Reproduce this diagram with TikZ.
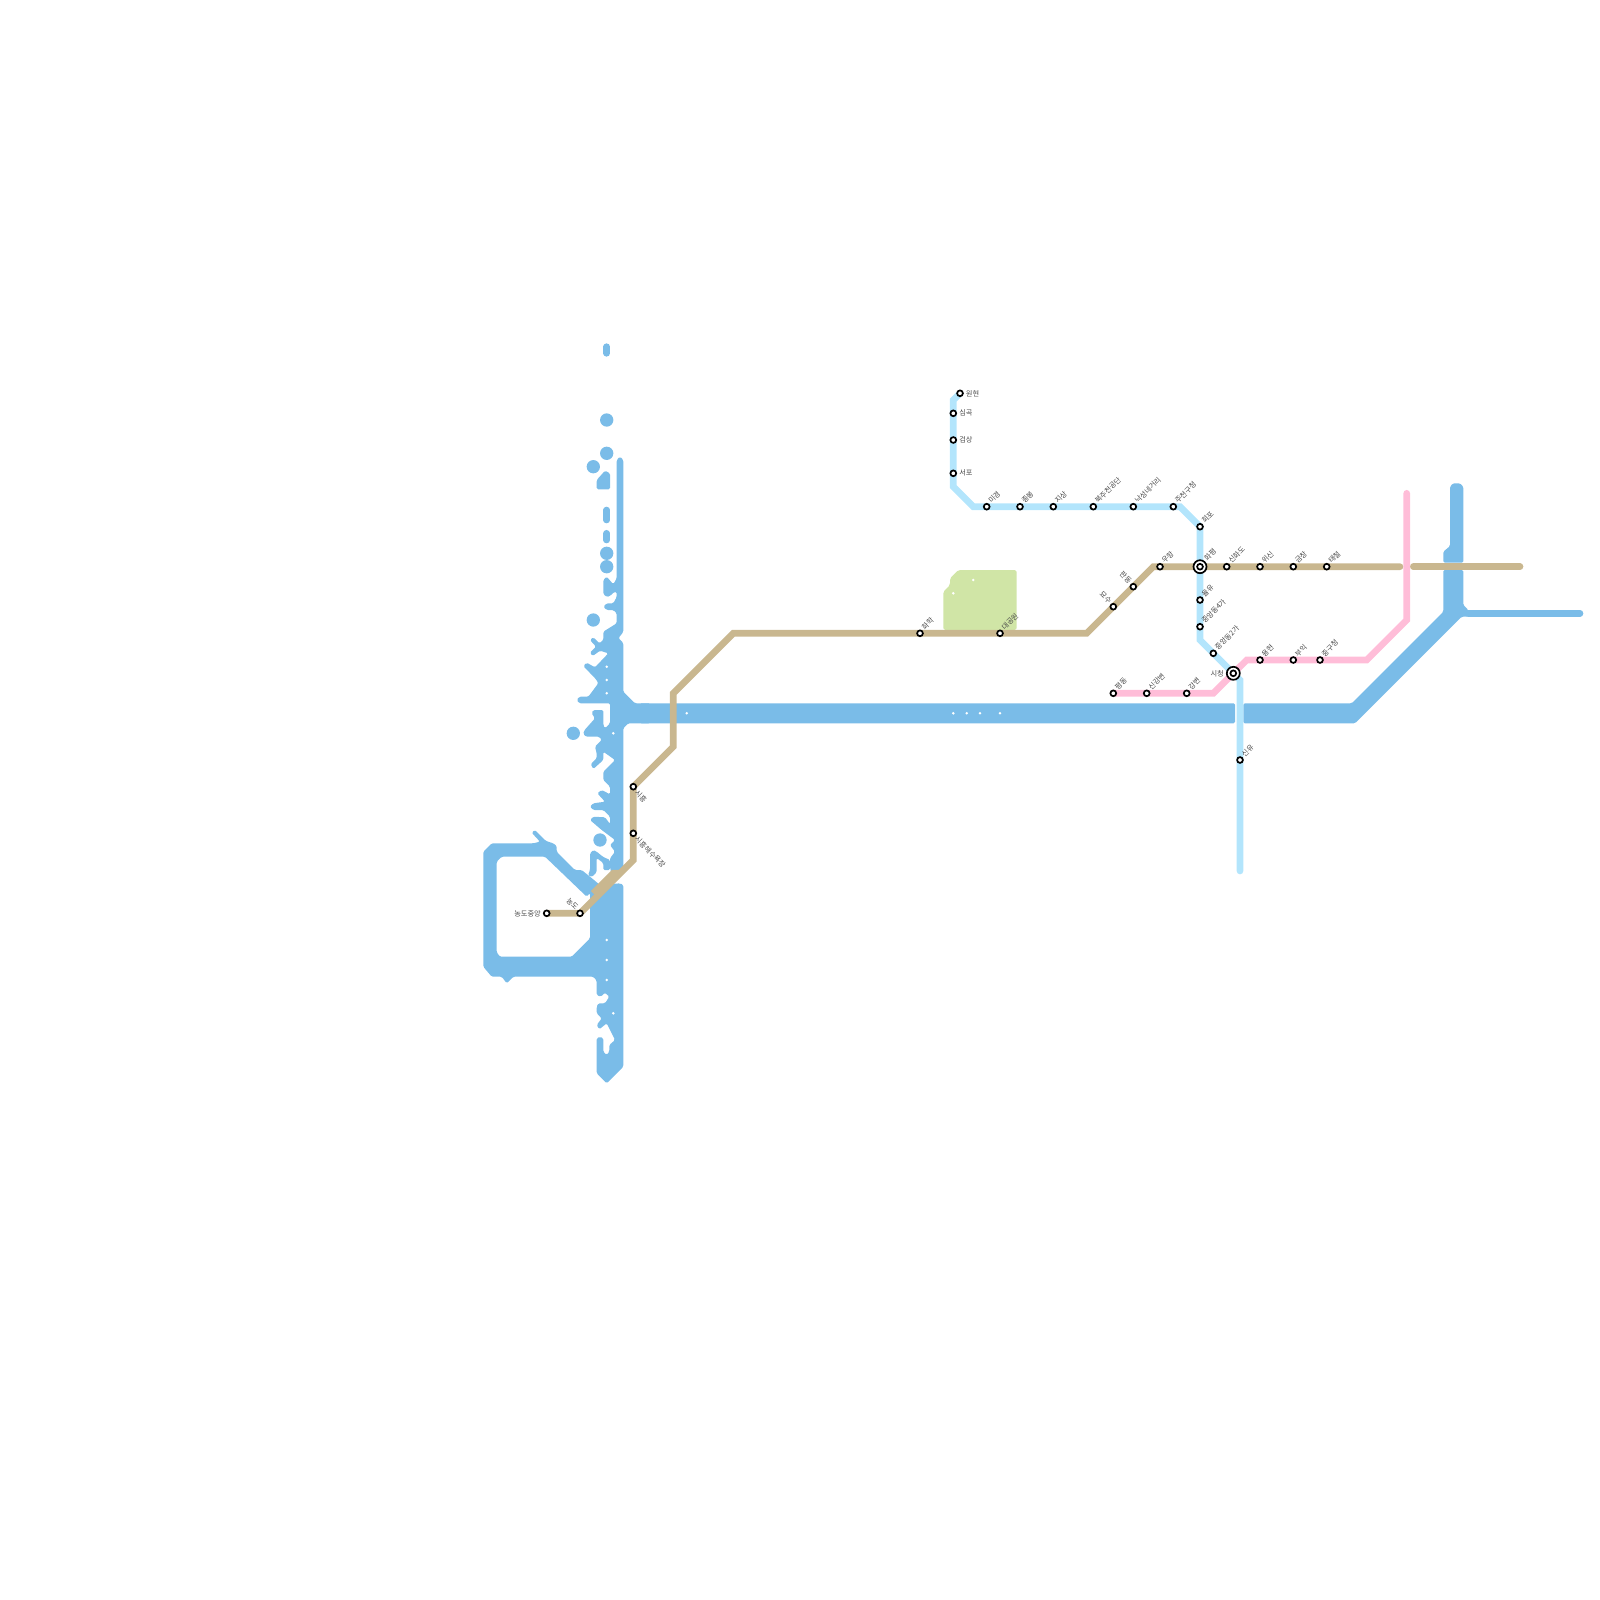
\documentclass[tikz,border=0pt]{standalone}
\usepackage{xcolor}
\usepackage{fontspec}
\setmainfont{Noto Sans CJK KR}
\usetikzlibrary{positioning,backgrounds}
\definecolor{watercol}{HTML}{7ABCE8}
\definecolor{parkcol}{HTML}{D0E5A6}
\definecolor{tancol}{HTML}{C9B78F}
\definecolor{skycol}{HTML}{B3E5FC}
\definecolor{pinkcol}{HTML}{FFBDD8}
\definecolor{txtcol}{HTML}{4A4A4A}
\tikzset{
    stn/.style={circle,draw=black,fill=white,line width=.85pt,inner sep=0pt,minimum size=2.9pt},
    ringstn/.style={circle,draw=black,fill=white,line width=.85pt,inner sep=0pt,minimum size=6.5pt},
    txt/.style={font=\fontsize{3.6}{4}\selectfont,text=txtcol,inner sep=0pt},
    lblne/.style={label={[txt,rotate=45,anchor=west]45:#1}},
    lblse/.style={label={[txt,rotate=-45,anchor=west]-45:#1}},
    lblnw/.style={label={[txt,rotate=-45,anchor=east]135:#1}},
    lblr/.style={label={[txt,anchor=west]0:#1}},
    lbll/.style={label={[txt,anchor=east]180:#1}},
    water/.style={fill=watercol,rounded corners=.7pt},
    waterline/.style={draw=watercol,line width=3.33pt,line cap=round},
    tanline/.style={draw=tancol,line width=3.33pt,line cap=round},
    skyline/.style={draw=skycol,line width=3.33pt,line cap=round},
    pinkline/.style={draw=pinkcol,line width=3.33pt,line cap=round}
}
\begin{document}
\begin{tikzpicture}[x=0.5pt,y=-0.5pt,label distance=.9pt]
    \useasboundingbox (0,0) rectangle (1600,1600);

    \node[stn,lblr=원현] (wonhyeon) at (960,393.3) {};
    \node[stn,lblr=심곡] (simgok) at (953.3,413.3) {};
    \node[stn,lblr=검상] (geomsang) at (953.3,440) {};
    \node[stn,lblr=서포] (seopo) at (953.3,473.3) {};
    \node[stn,lblne=미경] (migyeong) at (986.7,506.7) {};
    \node[stn,lblne=종봉] (jongbong) at (1020,506.7) {};
    \node[stn,lblne=지상] (jisang) at (1053.3,506.7) {};
    \node[stn,lblne=북주천공단] (bukjucheon) at (1093.3,506.7) {};
    \node[stn,lblne=낙성네거리] (nakseong) at (1133.3,506.7) {};
    \node[stn,lblne=주천구청] (jucheon) at (1173.3,506.7) {};
    \node[stn,lblne=회포] (hoepo) at (1200,526.7) {};
    \node[ringstn,lblne=화평] (hwapyeongring) at (1200,566.7) {};
    \node[stn] (hwapyeong) at (1200,566.7) {};
    \node[stn,lblne=율유] (yulyu) at (1200,600) {};
    \node[stn,lblne=중앙동4가] (jungang4) at (1200,626.7) {};
    \node[stn,lblne=중앙동2가] (jungang2) at (1213.3,653.3) {};
    \node[ringstn,lbll=시청] (sicheongring) at (1233.3,673.3) {};
    \node[stn] (sicheong) at (1233.3,673.3) {};
    \node[stn,lblne=신유] (sinyu) at (1240,760) {};

    \node[stn,lblne=신화도] (sinhwado) at (1226.7,566.7) {};
    \node[stn,lblne=위신] (wisin) at (1260,566.7) {};
    \node[stn,lblne=금창] (geumchang) at (1293.3,566.7) {};
    \node[stn,lblne=태철] (taecheol) at (1326.7,566.7) {};
    \node[stn,lblne=우항] (uhang) at (1160,566.7) {};
    \node[stn,lblnw=판동] (pandong) at (1133.3,586.7) {};
    \node[stn,lblnw=묘수] (myosu) at (1113.3,606.7) {};
    \node[stn,lblne=대공원] (daegongwon) at (1000,633.3) {};
    \node[stn,lblne=화학] (hwahak) at (920,633.3) {};
    \node[stn,lblse=시흥] (siheung) at (633.3,786.7) {};
    \node[stn,lblse=시흥해수욕장] (siheungbeach) at (633.3,833.3) {};
    \node[stn,lblnw=농도] (nongdo) at (580,913.3) {};
    \node[stn,lbll=농도중앙] (nongdocenter) at (546.7,913.3) {};

    \node[stn,lblne=평동] (pyeongdong) at (1113.3,693.3) {};
    \node[stn,lblne=신강변] (singangbyeon) at (1146.7,693.3) {};
    \node[stn,lblne=강변] (gangbyeon) at (1186.7,693.3) {};
    \node[stn,lblne=용현] (yonghyeon) at (1260,660) {};
    \node[stn,lblne=부익] (buik) at (1293.3,660) {};
    \node[stn,lblne=중구청] (junggu) at (1320,660) {};

    \coordinate (skyA) at (953.3,400);
    \coordinate (skyB) at (953.3,486.7);
    \coordinate (skyC) at (973.3,506.7);
    \coordinate (skyG) at (1180,506.7);
    \coordinate (skyD) at (1200,640);
    \coordinate (skyE) at (1240,680);
    \coordinate (skyF) at (1240,871);
    \coordinate (tanA) at (633.3,860);
    \coordinate (tanB) at (673.3,746.7);
    \coordinate (tanC) at (673.3,693.3);
    \coordinate (tanD) at (733.3,633.3);
    \coordinate (tanE) at (1086.7,633.3);
    \coordinate (tanF) at (1153.3,566.7);
    \coordinate (tanG) at (1400,566.7);
    \coordinate (tanH) at (1413.3,566.7);
    \coordinate (tanI) at (1520,566.7);
    \coordinate (tanJ) at (593.3,893.3);
    \coordinate (tanK) at (613.3,873.3);
    \coordinate (tanL) at (620,873.3);
    \coordinate (pinkA) at (1213.3,693.3);
    \coordinate (pinkB) at (1246.7,660);
    \coordinate (pinkC) at (1366.7,660);
    \coordinate (pinkD) at (1406.7,620);
    \coordinate (pinkE) at (1406.7,493.3);
    \coordinate (seaA) at (1468,613.3);
    \coordinate (seaB) at (1580,613.3);

    \begin{scope}[on background layer]
    \fill[water] (620,456.7) -- (623.3,460) -- (623.3,632) -- (618.5,638) -- (623.3,643) -- (623.3,691.7) -- (635,703.3) -- (650,703.3) -- (650,723.3) -- (628.3,723.3) -- (623.3,728.3) -- (623.3,868) -- (612,878)
        -- (610,866.7) -- (610,858.3) -- (615,851.7) -- (610,845) -- (615,840) -- (601.7,830) -- (590,820) -- (593.3,816.7) -- (605,817.3) -- (610,824) -- (610,816.7) -- (603.3,810) -- (593.3,810) -- (590,806.7) -- (593.3,803.3) -- (605,801.7) -- (597.3,793.3) -- (601.7,790) -- (610,794.3) -- (610,786.7) -- (603.3,780) -- (603.3,771.7) -- (615,760) -- (603.3,751.7) -- (603.3,760) -- (593.3,769) -- (590.7,764) -- (596.7,758.3) -- (596.7,753.3) -- (595,746.7) -- (601.7,740) -- (599.3,736.7) -- (586,736.7) -- (583.3,734) -- (584,730.7) -- (595,718.3) -- (591.7,713.3) -- (593.3,710) -- (603.3,710) -- (603.3,725) -- (605,728.3) -- (610,723.3) -- (610,703.3) -- (579.3,703.3) -- (576.7,700) -- (579.3,696.7) -- (588.3,696.7) -- (598.3,683.3) -- (596,679.3) -- (583.3,666) -- (586.7,662.7) -- (595,667.3) -- (608.3,653.3) -- (600,650.7) -- (592.7,656) -- (590,652.7) -- (596,646.7) -- (590,640) -- (593.3,637.3) -- (599.3,643.3) -- (603.3,640) -- (603.3,631.7) -- (616.7,623.3) -- (616.7,613.3) -- (613.3,610) -- (606.7,610) -- (603.3,606.7) -- (606.7,603.3) -- (613.3,603.3) -- (616.7,597) -- (616.7,592) -- (614,592) -- (610,596) -- (606.7,597) -- (603.3,594) -- (603.3,580) -- (606.7,576.7) -- (613.3,584.3) -- (616.7,578.3) -- (616.7,460) -- cycle;
    \fill[water] (590,853.3) -- (593.3,850) -- (596.7,851.7) -- (603.3,857) -- (610,860) -- (610,870) -- (603.3,870) -- (603.3,863) -- (596.7,858) -- (596.7,872) -- (592,877) -- (588,875) -- (590,870) -- cycle;
    \fill[water,even odd rule] (491.7,843.3) -- (533.3,843.3) -- (540,841.7) -- (531.7,832.7) -- (535,830) -- (546,841) -- (553.3,843.3) -- (556.7,846) -- (556.7,851.7) -- (575,870) -- (581.7,870) -- (590,876.7) -- (600,885) -- (620,883.3) -- (623.3,885) -- (623.3,1066.7) -- (606.7,1083.3) -- (596.7,1073.3) -- (596.7,1038.3) -- (600,1036.7) -- (603.3,1038.3) -- (603.3,1051.7) -- (606.7,1055) -- (609.3,1051.7) -- (609.3,1045) -- (615,1040) -- (606.7,1023.3) -- (599.3,1029.3) -- (596.7,1025) -- (601.7,1018.3) -- (596.7,1013.3) -- (596.7,1006.7) -- (598.3,1003.3) -- (605,1003.3) -- (609.3,996.7) -- (605,992.7) -- (600.7,996.7) -- (596.7,995) -- (596.7,980.7) -- (593.3,976.7) -- (513.3,976.7) -- (506.7,983.3) -- (501.7,976.7) -- (491.7,976.7) -- (483.3,966.7) -- (483.3,851.7) -- cycle
        (501.7,856.7) -- (545,856.7) -- (586.7,896.7) -- (590,893) -- (590,938.3) -- (571.7,956.7) -- (500,956.7) -- (496.7,952.3) -- (496.7,861.7) -- cycle;
    \fill[water] (640,703.3) -- (1235,703.3) -- (1235,723.3) -- (640,723.3) -- cycle;
    \fill[water] (1243.3,703.3) -- (1351.7,703.3) -- (1443.3,611.7) -- (1443.3,570) -- (1463.3,570) -- (1463.3,605) -- (1468.3,610) -- (1468.3,616.7) -- (1461.7,616.7) -- (1355,723.3) -- (1243.3,723.3) -- cycle;
    \fill[water] (1443.3,562.7) -- (1443.3,551.7) -- (1450,546) -- (1450,486.7) -- (1453,483.3) -- (1460,483.3) -- (1463.3,486.7) -- (1463.3,562.7) -- cycle;
    \fill[water] (596.7,480) -- (605,470.7) -- (610,473.3) -- (610,489.3) -- (596.7,489.3) -- cycle;
    \draw[waterline] (seaA) -- (seaB);
    \draw[waterline] (606.7,346.7) -- (606.7,353.3);
    \draw[waterline] (606.7,510) -- (606.7,520);
    \draw[waterline] (606.7,533.3) -- (606.7,540);
    \fill[watercol] (606.7,420) circle (3.33pt);
    \fill[watercol] (606.7,453.3) circle (3.33pt);
    \fill[watercol] (593.3,466.7) circle (3.33pt);
    \fill[watercol] (606.7,553.3) circle (3.33pt);
    \fill[watercol] (606.7,566.7) circle (3.33pt);
    \fill[watercol] (593.3,620) circle (3.33pt);
    \fill[watercol] (573.3,733.3) circle (3.33pt);
    \fill[watercol] (600,840) circle (3.33pt);
    \fill[parkcol,rounded corners=.9pt] (943.3,630) -- (943.3,591.7) -- (950,585) -- (950,578.3) -- (958.3,570) -- (1016.7,570) -- (1016.7,630) -- cycle;
    \foreach \dotx/\doty in {606.7/666.7,606.7/680,606.7/693.3,613.3/733.3,686.7/713.3,953.3/713.3,966.7/713.3,980/713.3,1000/713.3,606.7/940,606.7/960,606.7/980,613.3/1013.3,973.3/580,953.3/593.3}
        \fill[white] (\dotx,\doty) circle (.7pt);
    \draw[tanline] (nongdocenter.center) -- (nongdo.center) -- (tanA) -- (siheungbeach.center) -- (siheung.center) -- (tanB) -- (tanC) -- (tanD) -- (hwahak.center) -- (daegongwon.center) -- (tanE) -- (myosu.center) -- (pandong.center) -- (tanF) -- (uhang.center) -- (hwapyeong.center) -- (sinhwado.center) -- (wisin.center) -- (geumchang.center) -- (taecheol.center) -- (tanG);
    \draw[tanline] (tanH) -- (tanI);
    \draw[tanline,line cap=butt] (tanJ) -- (tanK) -- (tanL);
    \draw[pinkline] (pyeongdong.center) -- (singangbyeon.center) -- (gangbyeon.center) -- (pinkA) -- (pinkB) -- (yonghyeon.center) -- (buik.center) -- (junggu.center) -- (pinkC) -- (pinkD) -- (pinkE);
    \draw[skyline] (wonhyeon.center) -- (skyA) -- (simgok.center) -- (geomsang.center) -- (seopo.center) -- (skyB) -- (skyC) -- (migyeong.center) -- (jongbong.center) -- (jisang.center) -- (bukjucheon.center) -- (nakseong.center) -- (jucheon.center) -- (skyG) -- (hoepo.center) -- (hwapyeong.center) -- (yulyu.center) -- (jungang4.center) -- (skyD) -- (jungang2.center) -- (sicheong.center) -- (skyE) -- (sinyu.center) -- (skyF);
    \end{scope}
\end{tikzpicture}
\end{document}
